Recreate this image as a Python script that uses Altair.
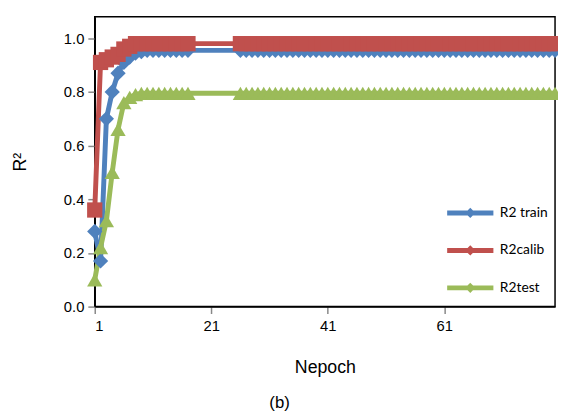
import altair as alt
import pandas as pd

series_names = ["R2 train", "R2calib", "R2test"]
colors = ["#4F81BD", "#C0504D", "#9BBB59"]
shapes = ["diamond", "square", "triangle-up"]

epochs = [1, 2, 3, 4, 5, 6, 7, 8, 9, 10, 11, 12, 13, 14, 15, 16, 17,
          26, 27, 28, 29, 30, 31, 32, 33, 34, 35, 36, 37, 38, 39, 40,
          41, 42, 43, 44, 45, 46, 47, 48, 49, 50, 51, 52, 53, 54, 55,
          56, 57, 58, 59, 60, 61, 62, 63, 64, 65, 66, 67, 68, 69, 70,
          71, 72, 73, 74, 75, 76, 77, 78, 79, 80]

r2_train = [0.28, 0.17, 0.70, 0.80, 0.87, 0.91, 0.93, 0.945, 0.95, 0.955,
            0.955, 0.955, 0.955, 0.955, 0.955, 0.955, 0.955,
            0.955, 0.955, 0.955, 0.955, 0.955, 0.955, 0.955, 0.955, 0.955, 0.955,
            0.955, 0.955, 0.955, 0.955, 0.955, 0.955, 0.955, 0.955, 0.955, 0.955,
            0.955, 0.955, 0.955, 0.955, 0.955, 0.955, 0.955, 0.955, 0.955, 0.955,
            0.955, 0.955, 0.955, 0.955, 0.955, 0.955, 0.955, 0.955, 0.955, 0.955,
            0.955, 0.955, 0.955, 0.955, 0.955, 0.955, 0.955, 0.955, 0.955, 0.955,
            0.955, 0.955, 0.955, 0.955, 0.955]

r2_calib = [0.36, 0.91, 0.92, 0.93, 0.94, 0.96, 0.97, 0.98, 0.98, 0.98,
            0.98, 0.98, 0.98, 0.98, 0.98, 0.98, 0.98,
            0.98, 0.98, 0.98, 0.98, 0.98, 0.98, 0.98, 0.98, 0.98, 0.98,
            0.98, 0.98, 0.98, 0.98, 0.98, 0.98, 0.98, 0.98, 0.98, 0.98,
            0.98, 0.98, 0.98, 0.98, 0.98, 0.98, 0.98, 0.98, 0.98, 0.98,
            0.98, 0.98, 0.98, 0.98, 0.98, 0.98, 0.98, 0.98, 0.98, 0.98,
            0.98, 0.98, 0.98, 0.98, 0.98, 0.98, 0.98, 0.98, 0.98, 0.98,
            0.98, 0.98, 0.98, 0.98, 0.98]

r2_test = [0.10, 0.22, 0.32, 0.50, 0.66, 0.76, 0.78, 0.79, 0.795, 0.795,
           0.795, 0.795, 0.795, 0.795, 0.795, 0.795, 0.795,
           0.795, 0.795, 0.795, 0.795, 0.795, 0.795, 0.795, 0.795, 0.795, 0.795,
           0.795, 0.795, 0.795, 0.795, 0.795, 0.795, 0.795, 0.795, 0.795, 0.795,
           0.795, 0.795, 0.795, 0.795, 0.795, 0.795, 0.795, 0.795, 0.795, 0.795,
           0.795, 0.795, 0.795, 0.795, 0.795, 0.795, 0.795, 0.795, 0.795, 0.795,
           0.795, 0.795, 0.795, 0.795, 0.795, 0.795, 0.795, 0.795, 0.795, 0.795,
           0.795, 0.795, 0.795, 0.795, 0.795]

x_ticks = [1, 21, 41, 61]
y_ticks = [0.0, 0.2, 0.4, 0.6, 0.8, 1.0]

rows = []
for name, vals in zip(series_names, [r2_train, r2_calib, r2_test]):
    for e, v in zip(epochs, vals):
        rows.append({"epoch": e, "r2": v, "series": name})
df = pd.DataFrame(rows)

FONT = "Liberation Sans"
legend_path = "M-1,0H1M0,-0.07L0.07,0L0,0.07L-0.07,0Z"

color_scale = alt.Scale(domain=series_names, range=colors)

x_enc = alt.X(
    "epoch:Q",
    scale=alt.Scale(domain=[1, 80], nice=False, zero=False),
    axis=alt.Axis(values=x_ticks, title="Nepoch", labelPadding=5, titlePadding=26),
)
y_enc = alt.Y(
    "r2:Q",
    scale=alt.Scale(domain=[0, 1.08], nice=False),
    axis=alt.Axis(values=y_ticks, format=".1f", title="R²", labelPadding=4, titlePadding=34),
)

base = alt.Chart(df)
lines = base.mark_line(strokeWidth=5).encode(
    x=x_enc, y=y_enc,
    color=alt.Color(
        "series:N", scale=color_scale,
        legend=alt.Legend(
            title=None, orient="none", legendX=355, legendY=173,
            symbolType=legend_path, symbolSize=2200, symbolStrokeWidth=5,
            symbolFillColor="transparent",
            labelFont="Lato", labelFontSize=14, labelColor="#000",
            rowPadding=-9, labelOffset=4,
        ),
    ),
    detail="series:N",
)

point_layers = []
for name, col, shp in zip(series_names, colors, shapes):
    point_layers.append(
        base.transform_filter(alt.datum.series == name)
        .mark_point(filled=True, size=240, opacity=1, shape=shp, color=col)
        .encode(x=x_enc, y=y_enc)
    )

chart = (
    alt.layer(lines, *point_layers)
    .properties(
        width=467, height=294,
        autosize=alt.AutoSizeParams(type="none"),
        padding={"left": 88, "top": 6, "right": 3, "bottom": 105},
        title=alt.TitleParams("(b)", orient="bottom", fontSize=17, font=FONT,
                              fontWeight="normal", color="#000", dx=-46, offset=19),
    )
    .configure_view(stroke="#000", strokeWidth=1.5)
    .configure_axis(
        grid=False, domainColor="#000", domainWidth=1.5, tickColor="#888",
        tickSize=7, tickWidth=1.5, labelFont=FONT, labelFontSize=15, labelColor="#000",
        titleFont=FONT, titleFontSize=18, titleFontWeight="normal", titleColor="#000",
    )
)

chart.save("out.html", embed_options={"renderer": "svg", "actions": False})
